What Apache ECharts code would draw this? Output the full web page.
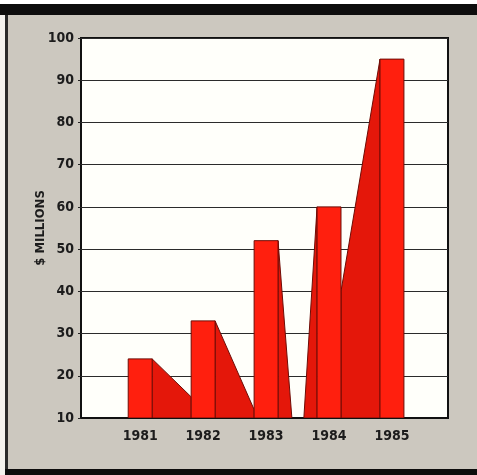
<!DOCTYPE html>
<html>
<head>
<meta charset="utf-8">
<script src="https://cdn.jsdelivr.net/npm/echarts@6/dist/echarts.min.js"></script>
<style>
  html, body { margin: 0; padding: 0; background: #ffffff; }
  #chart { width: 477px; height: 475px; }
</style>
</head>
<body>
<div id="chart"></div>
<script>
// Annual revenue, $ millions
const years = [1981, 1982, 1983, 1984, 1985];
const revenue = [24, 33, 52, 60, 95];
// Height of the far edge of each bar's slanted side face
const faceEnd = [15, 12, 10, 10, 40];
const yearLabels = years.slice();

// Layout of the pseudo-3D bars (in year units along the x axis)
const BAR_HALF = 0.19;
const FACE_SIDE = [1, 1, 1, -1, -1];
const FACE_SPAN = [0.62, 0.62, 0.22, 0.21, 0.62];
const Y_MIN = 10, Y_MAX = 100, Y_STEP = 10;

const FONT = '"Liberation Sans Narrow", "DejaVu Sans Condensed", "Arial Narrow", sans-serif';
const FRONT = '#ff1f0e';
const SIDE = '#e4170a';
const EDGE = '#6e0c06';

const chart = echarts.init(document.getElementById('chart'), null, { renderer: 'canvas' });

const seriesData = years.map((y, i) => [y, revenue[i], faceEnd[i]]);

function renderFace(params, api) {
  const i = params.dataIndex;
  const year = api.value(0), v = api.value(1), end = api.value(2);
  const side = FACE_SIDE[i];
  const x0 = year + side * BAR_HALF;
  const x1 = x0 + side * FACE_SPAN[i];
  const pts = [
    api.coord([x0, Y_MIN]),
    api.coord([x0, v]),
    api.coord([x1, end]),
    api.coord([x1, Y_MIN])
  ];
  return {
    type: 'polygon',
    shape: { points: pts },
    style: { fill: SIDE, stroke: EDGE, lineWidth: 1 }
  };
}

function renderBar(params, api) {
  const year = api.value(0), v = api.value(1);
  const tl = api.coord([year - BAR_HALF, v]);
  const br = api.coord([year + BAR_HALF, Y_MIN]);
  return {
    type: 'rect',
    shape: { x: tl[0], y: tl[1], width: br[0] - tl[0], height: br[1] - tl[1] },
    style: { fill: FRONT, stroke: EDGE, lineWidth: 1 }
  };
}

chart.setOption({
  backgroundColor: '#ccc8bf',
  animation: false,
  textStyle: { fontFamily: FONT },
  graphic: [
    { type: 'rect', z: 100, shape: { x: 0, y: 0, width: 477, height: 4 }, style: { fill: '#ffffff' } },
    { type: 'rect', z: 100, shape: { x: 0, y: 4, width: 477, height: 11 }, style: { fill: '#0d0d0d' } },
    { type: 'rect', z: 100, shape: { x: 0, y: 15, width: 5, height: 460 }, style: { fill: '#f4f2ee' } },
    { type: 'rect', z: 100, shape: { x: 5, y: 15, width: 3, height: 460 }, style: { fill: '#2a2a2a' } },
    { type: 'rect', z: 100, shape: { x: 5, y: 469, width: 472, height: 6 }, style: { fill: '#0d0d0d' } }
  ],
  grid: {
    left: 81, right: 29, top: 38, bottom: 57,
    show: true,
    backgroundColor: '#fffffa',
    borderColor: '#111111',
    borderWidth: 2
  },
  xAxis: {
    type: 'value',
    min: 1980.06,
    max: 1985.89,
    splitLine: { show: false },
    axisTick: { show: false },
    axisLine: { show: true, onZero: false, lineStyle: { color: '#111111', width: 2 } },
    axisLabel: {
      customValues: yearLabels,
      formatter: v => String(v),
      color: '#1c1c1c',
      fontFamily: FONT,
      fontWeight: 'bold',
      fontSize: 14,
      margin: 11
    }
  },
  yAxis: {
    type: 'value',
    min: Y_MIN,
    max: Y_MAX,
    interval: Y_STEP,
    name: '$ MILLIONS',
    nameLocation: 'middle',
    nameRotate: 90,
    nameGap: 34,
    nameMoveOverlap: false,
    nameTextStyle: { color: '#1c1c1c', fontFamily: FONT, fontWeight: 'bold', fontSize: 13 },
    axisLine: { show: false },
    axisTick: { show: true, length: 3, lineStyle: { color: '#222222', width: 1 } },
    axisLabel: {
      color: '#1c1c1c',
      fontFamily: FONT,
      fontWeight: 'bold',
      fontSize: 14,
      margin: 7
    },
    splitLine: { show: true, lineStyle: { color: '#2b2b2b', width: 1.2 } }
  },
  series: [
    {
      type: 'custom',
      name: 'side',
      clip: true,
      z: 3,
      data: seriesData,
      encode: { x: 0, y: 1 },
      renderItem: renderFace
    },
    {
      type: 'custom',
      name: 'front',
      clip: true,
      z: 4,
      data: seriesData,
      encode: { x: 0, y: 1 },
      renderItem: renderBar
    }
  ]
});
</script>
</body>
</html>
